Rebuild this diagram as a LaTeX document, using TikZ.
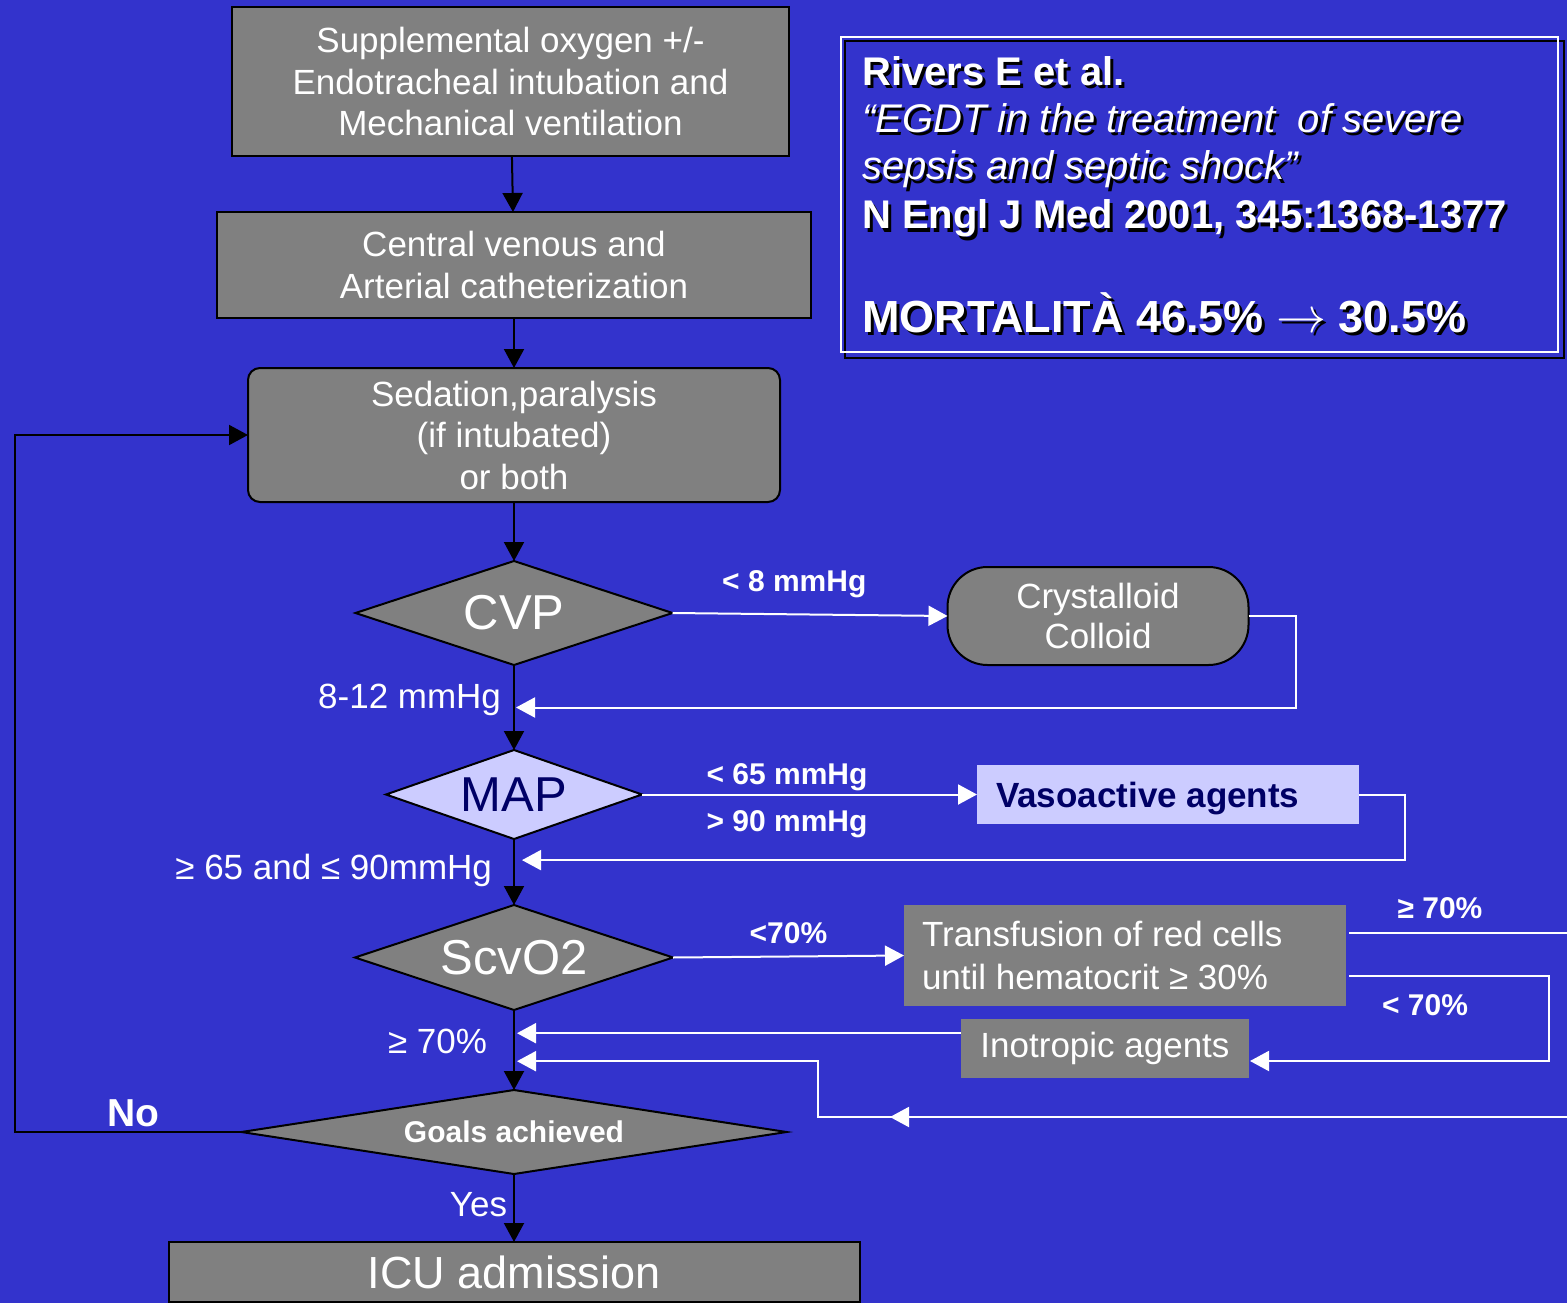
\documentclass[tikz,border=0pt]{standalone}
\usepackage{fontspec}
\setmainfont{Liberation Sans}
\usetikzlibrary{positioning,arrows.meta,calc,shapes.geometric,backgrounds,decorations.markings}
\definecolor{cBack}{HTML}{3333CC}
\definecolor{cGray}{HTML}{808080}
\definecolor{cLav}{HTML}{CCCCFF}
\definecolor{cNavy}{HTML}{000066}
\newcommand{\fsTxt}{\fontsize{35}{41.5}\selectfont}
\newcommand{\fsBig}{\fontsize{49}{55}\selectfont}
\newcommand{\fsLbl}{\fontsize{30}{34}\selectfont\bfseries}
\newcommand{\fsRef}{\fontsize{40}{48}\selectfont}
\newcommand{\fsHuge}{\fontsize{45}{52}\selectfont}
\newcommand{\shadowtxt}[4]{%
  \node[reftxt, text=black, font=#3] (#1s) at ($(#2)+(3,3)$) {#4};
  \node[reftxt, font=#3] (#1) at (#2) {#4};}
\tikzset{
  base/.style={draw=black,line width=2pt,fill=cGray,text=white,align=center,font=\fsTxt,inner sep=0pt,outer sep=0pt},
  box/.style={base,rectangle}, rbox/.style={base,rounded corners=12pt},
  pill/.style={base,rounded corners=40pt}, dec/.style={base,diamond,font=\fsBig},
  flat/.style={base,draw=none}, lav/.style={fill=cLav,text=cNavy},
  arr/.style={-{Triangle[length=19pt,width=20pt]},line width=2pt,draw=black},
  warr/.style={arr,draw=white},
  lbl/.style={text=white,font=\fsTxt,inner sep=0pt},
  blbl/.style={text=white,font=\fsLbl,inner sep=0pt},
  reftxt/.style={text=white,anchor=base west,inner sep=0pt},
  midtip/.style={postaction={decorate},decoration={markings,mark=at position #1 with {\arrow{Triangle[length=19pt,width=20pt]}}}}}
\begin{document}
\begin{tikzpicture}[x=1pt,y=-1pt]
\begin{scope}[on background layer]
\fill[cBack] (0,0) rectangle (1567,1303);
\end{scope}
\useasboundingbox (0,0) rectangle (1567,1303);
\clip (0,0) rectangle (1567,1303);
% main column
\node[box, minimum width=557pt, minimum height=149pt] (oxy) at (510.5,81.5) {Supplemental oxygen +/-\\Endotracheal intubation and\\Mechanical ventilation};
\node[box, minimum width=594pt, minimum height=106pt] (cath) at (514,265) {Central venous and\\Arterial catheterization};
\node[rbox, minimum width=532pt, minimum height=134pt, below=50pt of cath] (sed) {Sedation,paralysis\\(if intubated)\\or both};
\node[dec, aspect=3, minimum width=317pt, minimum height=104pt, below=59pt of sed] (cvp) {CVP};
\node[dec, lav, aspect=2.9, minimum width=256pt, minimum height=89pt, below=85pt of cvp] (map) {MAP};
\node[dec, aspect=3, minimum width=318pt, minimum height=105pt, below=66pt of map] (scv) {ScvO2};
\node[dec, aspect=6.5, font=\fsLbl, minimum width=545pt, minimum height=84pt, below=80pt of scv] (goal) {Goals achieved};
\node[box, font=\fsHuge, minimum width=691pt, minimum height=60pt, below=68pt of goal] (icu) {ICU admission};
% treatment boxes
\node[pill, font=\fontsize{35}{40}\selectfont, minimum width=301pt, minimum height=98pt, right=275pt of cvp, yshift=-3pt] (fluid) {Crystalloid\\Colloid};
\node[flat, lav, font=\fsTxt\bfseries, minimum width=382pt, minimum height=59pt, text width=344pt, text depth=0pt, align=flush left, inner xsep=19pt, right=335pt of map] (vaso) {Vasoactive agents};
\node[flat, font=\fontsize{35}{43}\selectfont, text width=406pt, align=flush left, inner xsep=18pt, minimum height=101pt, right=231pt of scv, yshift=2pt] (blood) {Transfusion of red cells\\until hematocrit ≥ 30\%};
\node[flat, minimum width=288pt, minimum height=59pt] (ino) at (1105,1048.5) {Inotropic agents};
% study box
\node[draw=white, line width=2pt, minimum width=717pt, minimum height=315pt, inner sep=0pt] (refbox) at (1199.5,194.5) {};
\begin{scope}[on background layer]
\draw[line width=2pt] ($(refbox.south west)+(5,5)$) rectangle ($(refbox.north east)+(5,5)$);
\end{scope}
\shadowtxt{rv1}{862,86}{\fsRef\bfseries}{Rivers E et al.}
\shadowtxt{rv2}{862,133}{\fsRef\itshape}{“EGDT in the treatment\ \ of severe}
\shadowtxt{rv3}{862,180}{\fsRef\itshape}{sepsis and septic shock”}
\shadowtxt{rv4}{862,229}{\fsRef\bfseries}{N Engl J Med 2001, 345:1368-1377}
\shadowtxt{rv5}{862,332}{\fsHuge\bfseries}{MORTALITÀ 46.5\% \resizebox{50pt}{!}{$\rightarrow$} 30.5\%}
% connectors
\coordinate (leftrail) at (15,0);
\coordinate (backA) at ($(cvp.south)!0.5!(map.north)$);
\coordinate (backB) at ($(map.south)!0.32!(scv.north)$);
\coordinate (backC) at ($(scv.south)!0.29!(goal.north)$);
\coordinate (backD) at ($(scv.south)!0.64!(goal.north)$);
\coordinate (loopL) at (818,1117);
\draw[arr] (oxy) -- (cath);
\draw[arr] (cath) -- (sed);
\draw[arr] (sed) -- (cvp);
\draw[arr] (cvp) -- node[lbl, left=12pt, pos=0.41] {8-12 mmHg} (map);
\draw[arr] (map) -- node[lbl, left=21pt, pos=0.47] {≥ 65 and ≤ 90mmHg} (scv);
\draw[arr] (scv) -- node[lbl, left=26pt, pos=0.39] {≥ 70\%} (goal);
\draw[arr] (goal) -- node[lbl, left=6pt, pos=0.456] {Yes} (icu);
\draw[arr] (goal.west) -- node[lbl, font=\fontsize{39}{44}\selectfont\bfseries, above=4pt, pos=0.478] {No} (goal.west -| leftrail) |- (sed.west);
\draw[warr] (cvp.east) -- node[blbl, above=15pt, pos=0.443] {< 8 mmHg} (fluid.west);
\draw[warr] (fluid.east) -- ++(47,0) |- ([xshift=2pt]backA);
\draw[warr] (map.east) -- node[blbl, above=3pt, pos=0.433] {< 65 mmHg} node[blbl, below=15pt, pos=0.433] {> 90 mmHg} (vaso.west);
\draw[warr] (vaso.east) -- ++(46,0) |- ([xshift=8pt]backB);
\draw[warr] (scv.east) -- node[blbl, above=12pt, pos=0.5] {<70\%} (blood.west);
\draw[warr, midtip=1143pt] ($(blood.east)+(3,-22.5)$) -- node[blbl, above=13pt, pos=0.364] {≥ 70\%} ++(250,0) |- (loopL) |- ([xshift=3pt]backD);
\draw[warr] ($(blood.east)+(3,20.5)$) -- node[blbl, below=18pt, pos=0.38] {< 70\%} ++(200,0) |- ($(ino.east)+(1,12.5)$);
\draw[warr] (ino.west |- backC) -- ([xshift=3pt]backC);
\end{tikzpicture}
\end{document}
